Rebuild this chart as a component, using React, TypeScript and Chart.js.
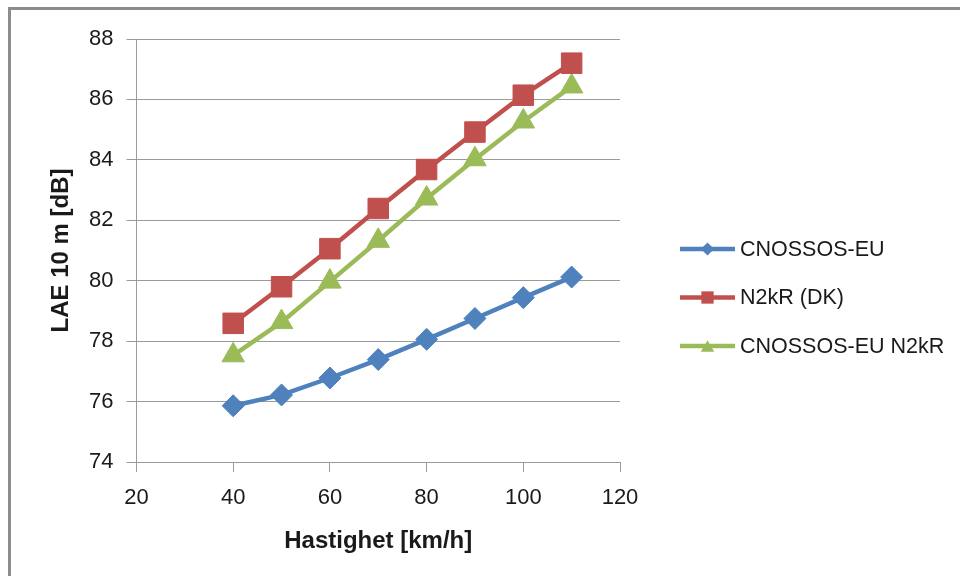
import React, { useEffect, useRef } from "react";
import { Chart, registerables } from "chart.js";

Chart.register(...registerables);

const speeds = [40, 50, 60, 70, 80, 90, 100, 110];
const cnossosEU = [75.86, 76.22, 76.78, 77.39, 78.06, 78.75, 79.44, 80.12];
const n2krDK = [78.59, 79.8, 81.06, 82.39, 83.68, 84.92, 86.14, 87.2];
const cnossosN2kR = [77.53, 78.63, 79.97, 81.32, 82.72, 84.02, 85.27, 86.43];
const seriesNames = ["CNOSSOS-EU", "N2kR (DK)", "CNOSSOS-EU N2kR"];
const seriesColors = ["#4F81BD", "#C0504D", "#9BBB59"];
const seriesStyles = ["rectRot", "rect", "triangle"];
const seriesRadius = [11, 14.5, 13];
const xTitle = "Hastighet [km/h]";
const yTitle = "LAE 10 m [dB]";

const FONT = "'Liberation Sans', Arial, sans-serif";
const GRID = "#9a9a9a";
const TEXT = "#1a1a1a";

function drawMarker(ctx: CanvasRenderingContext2D, style: string, x: number, y: number, r: number) {
  ctx.beginPath();
  if (style === "rectRot") {
    ctx.moveTo(x - r, y);
    ctx.lineTo(x, y - r);
    ctx.lineTo(x + r, y);
    ctx.lineTo(x, y + r);
  } else if (style === "rect") {
    const s = r * Math.SQRT1_2;
    ctx.rect(x - s, y - s, 2 * s, 2 * s);
  } else {
    const h = r * 0.75;
    const w = r * 0.866;
    ctx.moveTo(x, y - h);
    ctx.lineTo(x + w, y + h);
    ctx.lineTo(x - w, y + h);
  }
  ctx.closePath();
  ctx.fill();
}

const legendPlugin = {
  id: "customLegend",
  afterDraw(chart: any) {
    const ctx = chart.ctx as CanvasRenderingContext2D;
    ctx.save();
    chart.data.datasets.forEach((ds: any, i: number) => {
      const y = 249 + i * 48.5;
      const color = seriesColors[i];
      ctx.strokeStyle = color;
      ctx.fillStyle = color;
      ctx.lineWidth = 4.5;
      ctx.beginPath();
      ctx.moveTo(680, y);
      ctx.lineTo(735, y);
      ctx.stroke();
      drawMarker(ctx, seriesStyles[i], 707.5, y, seriesRadius[i] * 0.6);
      ctx.fillStyle = TEXT;
      ctx.font = `21.5px ${FONT}`;
      ctx.textBaseline = "middle";
      ctx.textAlign = "left";
      ctx.fillText(ds.label, 740, y + 1);
    });
    ctx.restore();
  },
};

export default function App() {
  const canvasRef = useRef<HTMLCanvasElement | null>(null);

  useEffect(() => {
    document.body.style.margin = "0";
    const canvas = canvasRef.current;
    if (!canvas) return;
    const values = [cnossosEU, n2krDK, cnossosN2kR];
    const chart = new Chart(canvas, {
      type: "line",
      data: {
        datasets: values.map((vals, i) => ({
          label: seriesNames[i],
          data: speeds.map((s, j) => ({ x: s, y: vals[j] })),
          borderColor: seriesColors[i],
          backgroundColor: seriesColors[i],
          pointBackgroundColor: seriesColors[i],
          pointBorderColor: seriesColors[i],
          pointBorderWidth: 1,
          borderWidth: 4.5,
          pointStyle: seriesStyles[i] as any,
          pointRadius: seriesRadius[i],
          tension: 0,
          fill: false,
        })),
      },
      options: {
        animation: false,
        responsive: false,
        maintainAspectRatio: false,
        layout: { padding: { left: 0, top: 39, right: 340, bottom: 0 }, autoPadding: false } as any,
        plugins: {
          legend: { display: false },
          tooltip: { enabled: false },
        },
        scales: {
          x: {
            type: "linear",
            min: 20,
            max: 120,
            ticks: { stepSize: 20, color: TEXT, font: { family: FONT, size: 22 }, padding: 13 },
            grid: { drawOnChartArea: false, drawTicks: true, tickLength: 10, color: GRID, lineWidth: 1 },
            border: { display: true, color: GRID, width: 1 },
            title: {
              display: true,
              text: xTitle,
              color: TEXT,
              font: { family: FONT, size: 24, weight: "bold" },
              padding: { top: 0, bottom: 20 },
            },
            afterFit: (scale: any) => {
              scale.height = 114;
            },
          },
          y: {
            type: "linear",
            min: 74,
            max: 88,
            ticks: { stepSize: 2, color: TEXT, font: { family: FONT, size: 22 }, padding: 13 },
            grid: { drawOnChartArea: true, drawTicks: true, tickLength: 10, color: GRID, lineWidth: 1 },
            border: { display: true, color: GRID, width: 1 },
            title: {
              display: true,
              text: yTitle,
              color: TEXT,
              font: { family: FONT, size: 24, weight: "bold" },
              padding: { top: 47, bottom: 0 },
            },
            afterFit: (scale: any) => {
              scale.width = 136.5;
            },
          },
        },
      },
      plugins: [legendPlugin],
    });
    return () => chart.destroy();
  }, []);

  return (
    <div style={{ position: "relative", width: 960, height: 576, overflow: "hidden", background: "#fff" }}>
      <canvas ref={canvasRef} width={960} height={576} style={{ position: "absolute", left: 0, top: 0 }} />
      <div
        style={{
          position: "absolute",
          left: 8,
          top: 7,
          width: 1100,
          height: 700,
          border: "3px solid #8c8c8c",
          pointerEvents: "none",
        }}
      />
    </div>
  );
}
